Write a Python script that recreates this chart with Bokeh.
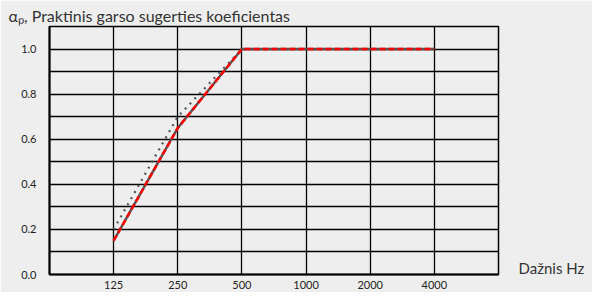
from bokeh.plotting import figure
from bokeh.models import Range1d, FixedTicker, LinearAxis
from bokeh.embed import file_html
from bokeh.resources import INLINE

freq_labels = ["125", "250", "500", "1000", "2000", "4000"]
positions = [1, 2, 3, 4, 5, 6]
alpha_solid = [0.15, 0.65, 1.0, 1.0, 1.0, 1.0]
alpha_dotted = [0.20, 0.70, 1.0, 1.0, 1.0, 1.0]
y_ticks = [0.0, 0.2, 0.4, 0.6, 0.8, 1.0]
y_grid = [0.0, 0.1, 0.2, 0.3, 0.4, 0.5, 0.6, 0.7, 0.8, 0.9, 1.0]
title_text = "αₚ, Praktinis garso sugerties koeficientas"
x_title = "Dažnis Hz"

BG = "#eeeeee"
FONT = "Lato"

W, H = 592, 292
L, R, T, B = 49, 498, 26, 274

p = figure(width=W, height=H, output_backend="svg", toolbar_location=None,
           x_range=Range1d(0, 7), y_range=Range1d(0, 1.1),
           min_border_left=L, min_border_right=W - R, min_border_top=T, min_border_bottom=H - B,
           background_fill_color=BG, border_fill_color=BG)
p.outline_line_color = "black"
p.outline_line_width = 1.5

p.title.text = title_text
p.title.text_font = FONT
p.title.text_font_size = "16px"
p.title.text_font_style = "normal"
p.title.text_color = "#333333"
p.title.align = "left"
p.title.offset = 8 - L
p.title.standoff = 4

p.xaxis.ticker = FixedTicker(ticks=positions)
p.xaxis.major_label_overrides = {pos: lab for pos, lab in zip(positions, freq_labels)}
p.yaxis.ticker = FixedTicker(ticks=y_ticks)
p.yaxis.major_label_overrides = {t: f"{t:.1f}" for t in y_ticks}
for ax in (p.xaxis, p.yaxis):
    ax.axis_line_color = "black"
    ax.axis_line_width = 2
    ax.major_tick_out = 0
    ax.major_tick_in = 0
    ax.minor_tick_out = 0
    ax.minor_tick_in = 0
    ax.major_label_text_font = FONT
    ax.major_label_text_font_size = "11px"
    ax.major_label_text_color = "#222222"
p.xaxis.major_label_standoff = 6
p.yaxis.major_label_standoff = 13

x_name_axis = LinearAxis(ticker=FixedTicker(ticks=[0.03]),
                         major_label_overrides={0.03: x_title},
                         axis_line_color=None, major_tick_out=0, major_tick_in=0,
                         minor_tick_out=0, minor_tick_in=0,
                         major_label_standoff=20,
                         major_label_text_font=FONT,
                         major_label_text_font_size="15px",
                         major_label_text_color="#333333")
p.add_layout(x_name_axis, "right")

p.xgrid.ticker = FixedTicker(ticks=positions)
p.ygrid.ticker = FixedTicker(ticks=y_grid)
p.xgrid.grid_line_color = "black"
p.ygrid.grid_line_color = "black"
p.xgrid.grid_line_width = 1.3
p.ygrid.grid_line_width = 1.3

p.line(positions, alpha_dotted, line_color="#555555", line_width=2.2, line_dash="2 5")
p.line(positions, alpha_solid, line_color="#555555", line_width=2.5)
p.line(positions, alpha_solid, line_color="#ff0000", line_width=2.5, line_dash="6 3")

open("out.html", "w").write(file_html(p, INLINE))
